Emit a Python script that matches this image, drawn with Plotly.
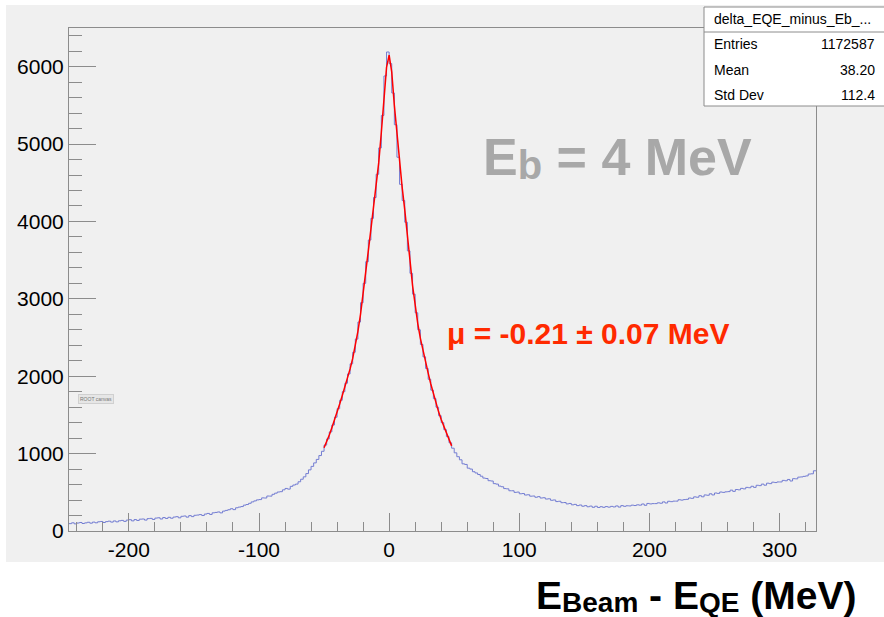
import numpy as np
import plotly.graph_objects as go

# ---------------- data ----------------
hist_range = [-246, 328]   # MeV, visible x range of the histogram
bin_width = 2              # MeV
counts = [
    95, 106, 92, 103, 110, 97, 105, 113, 101, 115,
    106, 119, 123, 110, 121, 127, 115, 130, 118, 132,
    137, 124, 141, 146, 131, 148, 136, 153, 155, 141,
    160, 163, 149, 167, 171, 155, 174, 162, 177, 165,
    180, 185, 170, 190, 194, 179, 199, 186, 203, 206,
    212, 200, 219, 227, 214, 235, 240, 246, 234, 257,
    266, 275, 288, 276, 300, 309, 316, 334, 342, 358,
    376, 389, 402, 406, 428, 426, 452, 451, 474, 489,
    504, 508, 532, 550, 541, 577, 594, 606, 636, 669,
    700, 742, 790, 835, 880, 925, 975, 1030, 1110, 1190,
    1280, 1370, 1470, 1580, 1690, 1800, 1910, 2030, 2160, 2310,
    2480, 2700, 2950, 3200, 3480, 3760, 4040, 4310, 4610, 4950,
    5370, 5880, 6190, 6040, 5660, 5250, 4830, 4480, 4270, 3990,
    3620, 3330, 3060, 2820, 2600, 2410, 2250, 2100, 1960, 1820,
    1710, 1600, 1490, 1400, 1310, 1220, 1140, 1070, 1010, 960,
    920, 868, 860, 812, 800, 766, 750, 730, 708, 684,
    678, 650, 646, 612, 606, 580, 572, 548, 545, 520,
    520, 499, 503, 481, 484, 465, 468, 450, 452, 436,
    444, 426, 430, 413, 416, 397, 401, 380, 384, 366,
    368, 350, 356, 338, 344, 328, 336, 320, 328, 313,
    322, 306, 320, 304, 314, 306, 316, 308, 318, 311,
    324, 309, 328, 319, 326, 324, 334, 329, 338, 334,
    349, 332, 356, 350, 354, 354, 364, 359, 376, 362,
    384, 379, 386, 386, 404, 399, 406, 409, 426, 422,
    441, 436, 456, 442, 466, 462, 481, 466, 491, 486,
    504, 499, 506, 509, 528, 512, 536, 532, 551, 544,
    564, 559, 578, 564, 591, 586, 606, 592, 618, 612,
    631, 626, 634, 634, 654, 649, 666, 646, 676, 674,
    696, 699, 706, 712, 736, 739, 778,
]

fit_x = [-50, -48, -46, -44, -42, -40, -38, -36, -34, -32, -30, -28, -26, -24,
         -22, -20, -18, -16, -14, -12, -10, -8, -6, -4, -2, 0, 2, 4, 6, 8, 10,
         12, 14, 16, 18, 20, 22, 24, 26, 28, 30, 32, 34, 36, 38, 40, 42, 44,
         46, 48]
fit_y = [1075, 1150, 1240, 1335, 1430, 1530, 1640, 1750, 1860, 1975, 2095,
         2230, 2390, 2580, 2800, 3050, 3330, 3620, 3900, 4170, 4460, 4760,
         5150, 5600, 5990, 6150, 5930, 5500, 5120, 4740, 4440, 4150, 3860,
         3500, 3170, 2900, 2680, 2490, 2330, 2180, 2040, 1900, 1770, 1650,
         1540, 1440, 1350, 1260, 1180, 1100]

y_range = [0, 6500]
x_tick_vals = [-200, -100, 0, 100, 200, 300]
x_tick_text = ["-200", "-100", "0", "100", "200", "300"]
y_tick_vals = [0, 1000, 2000, 3000, 4000, 5000, 6000]

stats_title = "delta_EQE_minus_Eb_..."
stats_labels = ["Entries", "Mean", "Std Dev"]
stats_values = ["1172587", "38.20", "112.4"]

SUB_BIG = "<span style='font-size:40px;baseline-shift:-4px'>{}</span>"
SUB_TITLE = "<span style='font-size:28px;baseline-shift:-3px'>{}</span>"
energy_label = "E" + SUB_BIG.format("b") + " = 4 MeV"
mu_label = "\u03bc = -0.21 \u00b1 0.07 MeV"
x_title = "E" + SUB_TITLE.format("Beam") + " - E" + SUB_TITLE.format("QE") + " (MeV)"

# ---------------- layout geometry (pixels) ----------------
W, H = 884, 617
L, R, T, B = 69, 816, 28, 531


def px(x):
    return (x - L) / (R - L)


def py(y):
    return (B - y) / (B - T)


FONT = "Liberation Sans, Arial, Helvetica, sans-serif"

edges = np.arange(hist_range[0], hist_range[1] + bin_width / 2, bin_width)
step_x = list(edges)
step_y = list(counts) + [counts[-1]]

fig = go.Figure()
fig.add_trace(go.Scatter(
    x=step_x, y=step_y, mode="lines", line=dict(color="#737dd2", width=1, shape="hv"),
    hoverinfo="skip", showlegend=False,
))
fig.add_trace(go.Scatter(
    x=fit_x, y=fit_y, mode="lines", line=dict(color="#ff0000", width=1.5),
    hoverinfo="skip", showlegend=False,
))

axis_common = dict(
    showgrid=False, zeroline=False, showline=True, linecolor="#8c8c8c", linewidth=1,
    mirror=True, ticks="inside", tickcolor="#8c8c8c", tickwidth=1,
    tickfont=dict(family=FONT, size=21, color="black"),
)

fig.update_xaxes(
    range=hist_range, tickvals=x_tick_vals, ticktext=x_tick_text, ticklen=18,
    minor=dict(dtick=20, tick0=0, ticklen=9, ticks="inside", tickcolor="#8c8c8c"),
    **axis_common,
)
fig.update_yaxes(
    range=y_range, tickvals=y_tick_vals, ticklen=27,
    minor=dict(dtick=200, tick0=0, ticklen=13, ticks="inside", tickcolor="#8c8c8c"),
    **axis_common,
)

shapes = [
    # grey canvas
    dict(type="rect", xref="paper", yref="paper", x0=px(6), x1=px(890), y0=py(562), y1=py(5),
         fillcolor="#f0f0f0", line=dict(width=0), layer="below"),
    # stats box
    dict(type="rect", xref="paper", yref="paper", x0=px(704), x1=px(890), y0=py(106), y1=py(7),
         fillcolor="white", line=dict(color="#8c8c8c", width=1), layer="above"),
    dict(type="line", xref="paper", yref="paper", x0=px(704), x1=px(890), y0=py(32), y1=py(32),
         line=dict(color="#8c8c8c", width=1), layer="above"),
]

annotations = [
    dict(text=stats_title, x=px(792), y=py(19), xref="paper", yref="paper",
         xanchor="center", yanchor="middle", showarrow=False,
         font=dict(family=FONT, size=14, color="black")),
]
row_y = [44, 70, 95]
for lab, val, yy in zip(stats_labels, stats_values, row_y):
    annotations.append(dict(text=lab, x=px(712), y=py(yy), xref="paper", yref="paper",
                            xanchor="left", yanchor="middle", showarrow=False,
                            font=dict(family=FONT, size=14, color="black")))
    annotations.append(dict(text=val, x=px(877), y=py(yy), xref="paper", yref="paper",
                            xanchor="right", yanchor="middle", showarrow=False,
                            font=dict(family=FONT, size=14, color="black")))

annotations += [
    dict(text="<b>" + energy_label + "</b>", x=px(481), y=py(158), xref="paper", yref="paper",
         xanchor="left", yanchor="middle", showarrow=False,
         font=dict(family=FONT, size=52, color="#a8a8a8")),
    dict(text="<b>" + mu_label + "</b>", x=px(445), y=py(333), xref="paper", yref="paper",
         xanchor="left", yanchor="middle", showarrow=False,
         font=dict(family=FONT, size=30, color="#ff2a00")),
    dict(text="<b>" + x_title + "</b>", x=px(858), y=py(596), xref="paper", yref="paper",
         xanchor="right", yanchor="middle", showarrow=False,
         font=dict(family=FONT, size=39, color="black")),
    dict(text="ROOT canvas", x=px(96), y=py(399), xref="paper", yref="paper",
         xanchor="center", yanchor="middle", showarrow=False,
         bgcolor="#e6e6e6", bordercolor="#d0d0d0", borderwidth=1, borderpad=1,
         font=dict(family=FONT, size=5, color="#777777")),
]

fig.update_layout(
    width=W, height=H,
    margin=dict(l=L, r=W - R, t=T, b=H - B, pad=0),
    paper_bgcolor="white", plot_bgcolor="#f0f0f0",
    showlegend=False, shapes=shapes, annotations=annotations,
)

fig.write_html("out.html")
